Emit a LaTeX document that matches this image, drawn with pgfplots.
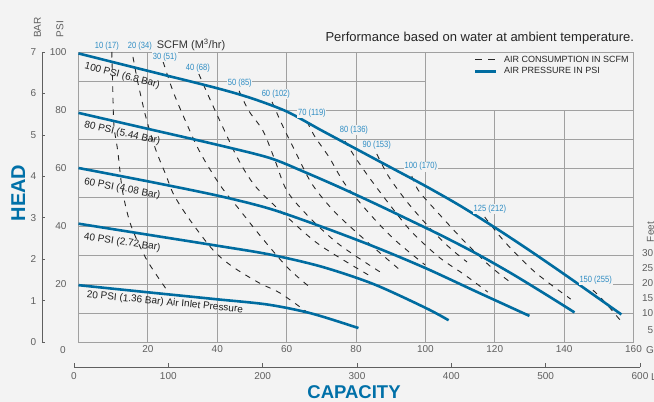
\documentclass[border=0pt]{standalone}
\usepackage{fontspec}
\setmainfont{Liberation Sans}
\usepackage{pgfplots}
\pgfplotsset{compat=1.18}
\definecolor{bgc}{RGB}{243,243,243}
\definecolor{gridc}{RGB}{160,160,160}
\definecolor{curveblue}{RGB}{0,108,160}
\definecolor{lblblue}{RGB}{45,140,195}
\definecolor{headblue}{RGB}{0,112,168}
\definecolor{txtgray}{RGB}{95,95,95}
\tikzset{
  blue curve/.style={curveblue, line width=2.6pt, smooth},
  air/.style={black!85, line width=0.9pt, dash pattern=on 5.5pt off 6pt, smooth},
  lbl/.style={font=\fontsize{9}{10}\selectfont, text=lblblue, fill=bgc, inner sep=0.8pt, xscale=0.84},
  clbl/.style={font=\fontsize{10}{12}\selectfont, text=black!88, inner sep=0pt}
}
\begin{document}
\begin{tikzpicture}[x=1pt,y=1pt]
\useasboundingbox (0,0) rectangle (654,402);
\fill[bgc] (0,0) rectangle (654,402);

% BAR axis
\begin{axis}[at={(42pt,60pt)}, anchor=south west, scale only axis,
  width=10pt, height=290pt, xmin=0, xmax=1, ymin=0, ymax=7,
  axis y line=left, axis x line=none, ytick={0,...,7},
  tick align=inside, major tick length=3pt,
  tick style={txtgray, line width=0.6pt},
  y axis line style={-, txtgray, line width=0.6pt},
  /pgf/number format/assume math mode=true,
  yticklabel style={font=\fontsize{10}{12}\selectfont, text=txtgray, xshift=-2.4pt}]
\addplot[draw=none] coordinates {(0,0)};
\end{axis}

% LPM axis
\begin{axis}[at={(74pt,35pt)}, anchor=south west, scale only axis,
  width=566pt, height=5pt, xmin=0, xmax=600, ymin=0, ymax=1,
  axis x line=bottom, axis y line=none, xtick={0,100,...,600},
  tick align=inside, major tick length=4pt,
  tick style={txtgray, line width=0.7pt},
  x axis line style={-, txtgray, line width=0.7pt},
  /pgf/number format/assume math mode=true,
  xticklabel style={font=\fontsize{10}{12}\selectfont, text=txtgray, yshift=-2pt}]
\addplot[draw=none] coordinates {(0,0)};
\end{axis}

% main axis
\begin{axis}[at={(78.5pt,60pt)}, anchor=south west, scale only axis,
  width=555pt, height=290pt, xmin=0, xmax=160, ymin=0, ymax=100,
  clip=false, axis line style={draw=gridc, line width=0.9pt},
  xtick={20,40,...,160}, ytick={20,40,...,100}, major tick length=0pt,
  /pgf/number format/assume math mode=true,
  tick label style={font=\fontsize{10}{12}\selectfont, text=txtgray},
  yticklabel style={xshift=-8.5pt},
  legend image code/.code={\draw[#1] (0pt,0pt) -- (21pt,0pt);},
  legend style={at={(axis cs:114,99.3)}, anchor=north west, draw=none, fill=none,
    font=\fontsize{9}{10.5}\selectfont, text=black!85, row sep=1pt, column sep=5pt,
    inner sep=0pt, nodes={inner sep=1.5pt}},
  legend cell align=left]

\addlegendimage{black!85, line width=0.9pt, dash pattern=on 7pt off 6pt}
\addlegendentry{AIR CONSUMPTION IN SCFM}
\addlegendimage{curveblue, line width=2.6pt}
\addlegendentry{AIR PRESSURE IN PSI}

% grid
\pgfplotsinvokeforeach{20,40,60,80,100}{\draw[gridc, line width=0.8pt] (axis cs:#1,0) -- (axis cs:#1,100);}
\pgfplotsinvokeforeach{120,140}{\draw[gridc, line width=0.8pt] (axis cs:#1,0) -- (axis cs:#1,80);}
\pgfplotsinvokeforeach{10,20,30,40,50,60,70,80}{\draw[gridc, line width=0.8pt] (axis cs:0,#1) -- (axis cs:160,#1);}
\draw[gridc, line width=0.8pt] (axis cs:0,90) -- (axis cs:100,90);

% air consumption (SCFM)
\addplot[air] coordinates {(9.6,100) (9.8,91) (10.2,75) (11.3,66) (12.7,52) (15.1,40.3) (19.5,28.7) (25.2,18.4)};
\addplot[air] coordinates {(15.7,98.3) (17.2,89) (19.5,77.2) (22.3,66.2) (25.2,57.6) (27.5,50.7) (32.1,42.1) (38.8,31.7) (44.5,25.9) (52.2,20.3) (58.1,16.9) (65.9,10.3)};
\addplot[air] coordinates {(24.4,96.6) (27.2,86.6) (30.7,76.6) (35,65.5) (40.8,54.1) (46.5,45.5) (52.9,35.9) (60.4,25.5) (67.3,18.3)};
\addplot[air] coordinates {(34.7,92.4) (37.6,84.5) (41.6,74.1) (46.3,62.4) (51.2,53.4) (59.5,43.8) (69.6,33.4) (84.6,22.4)};
\addplot[air] coordinates {(46.3,86.6) (49.1,79.7) (53.2,72.8) (56.6,62.8) (60.1,52.1) (66.7,42.8) (75.4,33.4) (88.3,23.1)};
\addplot[air] coordinates {(55.8,82.8) (58.6,75.2) (62.4,65.9) (67.3,54.5) (73.9,44.8) (82.6,35.2) (92.7,24.8)};
\addplot[air] coordinates {(65.9,75.9) (68.2,70.7) (72.2,63.8) (76.8,54.5) (84,44.1) (91.2,35.2) (99.9,26.6)};
\addplot[air] coordinates {(76.8,69.3) (79.7,63.8) (83.7,56.9) (89.8,47.2) (96.1,37.9) (104.2,29) (111.4,23.1) (118,17.2)};
\addplot[air] coordinates {(86,64.8) (89.5,56.9) (95,47.9) (101.3,39.3) (107.1,32.4) (112,27.6)};
\addplot[air] coordinates {(96.1,57.2) (98.1,52.1) (104.2,43.8) (111.4,34.5) (118.6,26.2) (124.4,20.7)};
\addplot[air] coordinates {(117.1,43.1) (122.9,34.5) (131.6,24.1) (141.9,14.8)};
\addplot[air] coordinates {(148.3,17.9) (151.7,13.8) (156.6,6.9)};

% air pressure curves (PSI)
\addplot[blue curve] coordinates {(0,99.5) (20,93.5) (40,87.5) (50,84) (60,79.5) (70,73) (80,66.6) (90,60.2) (100,53.8) (110,47) (120,39.5) (130,31.6) (140,23.4) (150,15) (156.5,9.5)};
\addplot[blue curve] coordinates {(0,79) (20,73.5) (40,68) (55,63.5) (65,58.7) (75,53.5) (85,48) (95,42.3) (105,36.5) (115,30.3) (125,23.5) (135,16.2) (143,10.2)};
\addplot[blue curve] coordinates {(0,60) (20,55.4) (40,50.5) (55,46) (70,39.8) (85,33) (100,25.5) (115,17.2) (130,9)};
\addplot[blue curve] coordinates {(0,40.8) (20,37) (40,33.2) (55,30.2) (70,26) (85,20) (100,11.8) (106.7,7.5)};
\addplot[blue curve] coordinates {(0,19.6) (19.5,17.2) (39.3,14.8) (54.6,12.9) (67.3,9.8) (80.7,4.8)};

% SCFM labels
\node[lbl] at (axis cs:8.2,102.1) {10 (17)};
\node[lbl] at (axis cs:17.7,102.1) {20 (34)};
\node[lbl] at (axis cs:24.9,98.3) {30 (51)};
\node[lbl] at (axis cs:34.4,94.5) {40 (68)};
\node[lbl] at (axis cs:46.5,89.3) {50 (85)};
\node[lbl] at (axis cs:56.9,85.5) {60 (102)};
\node[lbl] at (axis cs:67.3,79) {70 (119)};
\node[lbl] at (axis cs:79.4,73.1) {80 (136)};
\node[lbl] at (axis cs:86,67.9) {90 (153)};
\node[lbl] at (axis cs:98.7,60.5) {100 (170)};
\node[lbl] at (axis cs:118.6,45.7) {125 (212)};
\node[lbl] at (axis cs:149.1,21.4) {150 (255)};

% curve labels
\node[clbl, rotate=-14.5] at (axis cs:12.6,91.8) {100 PSI (6.8 Bar)};
\node[clbl, rotate=-13] at (axis cs:12.6,72) {80 PSI (5.44 Bar)};
\node[clbl, rotate=-10.5] at (axis cs:12.6,52.8) {60 PSI (4.08 Bar)};
\node[clbl, rotate=-8.5] at (axis cs:12.6,34.3) {40 PSI (2.72 Bar)};
\node[clbl, rotate=-5.5] at (axis cs:24.9,13.6) {20 PSI (1.36 Bar) Air Inlet Pressure};
\end{axis}

% texts around
\node[anchor=base east, inner sep=0pt, font=\fontsize{13}{15}\selectfont, text=black!85] at (634.3,360.3) {Performance based on water at ambient temperature.};
\node[anchor=base west, inner sep=0pt, font=\fontsize{11}{13}\selectfont, text=black!80] at (156.7,353.3) {SCFM (M\textsuperscript{3}/hr)};
\node[rotate=90, inner sep=0pt, font=\fontsize{10}{12}\selectfont, text=txtgray] at (37.5,374.5) {BAR};
\node[rotate=90, inner sep=0pt, font=\fontsize{10}{12}\selectfont, text=txtgray] at (60,373) {PSI};
\node[rotate=90, anchor=base, inner sep=0pt, font=\fontsize{20}{24}\bfseries, text=headblue] at (25,209) {HEAD};
\node[anchor=base, inner sep=0pt, font=\fontsize{18.5}{22}\bfseries, text=headblue] at (354,3.5) {CAPACITY};
\node[font=\fontsize{10}{12}\selectfont, text=txtgray] at (63,52) {0};
\node[anchor=west, inner sep=0pt, font=\fontsize{10}{12}\selectfont, text=txtgray] at (646,52) {GPM};
\node[anchor=west, inner sep=0pt, font=\fontsize{10}{12}\selectfont, text=txtgray] at (651,25) {LPM};
\node[rotate=90, inner sep=0pt, font=\fontsize{10}{12}\selectfont, text=txtgray] at (650.5,170) {Feet};
\foreach \v/\yy in {30/253,25/268,20/283,15/298,10/313,5/330}{
  \node[anchor=east, inner sep=0pt, font=\fontsize{10}{12}\selectfont, text=txtgray] at (653.5,402-\yy) {\v};
}
\end{tikzpicture}
\end{document}
